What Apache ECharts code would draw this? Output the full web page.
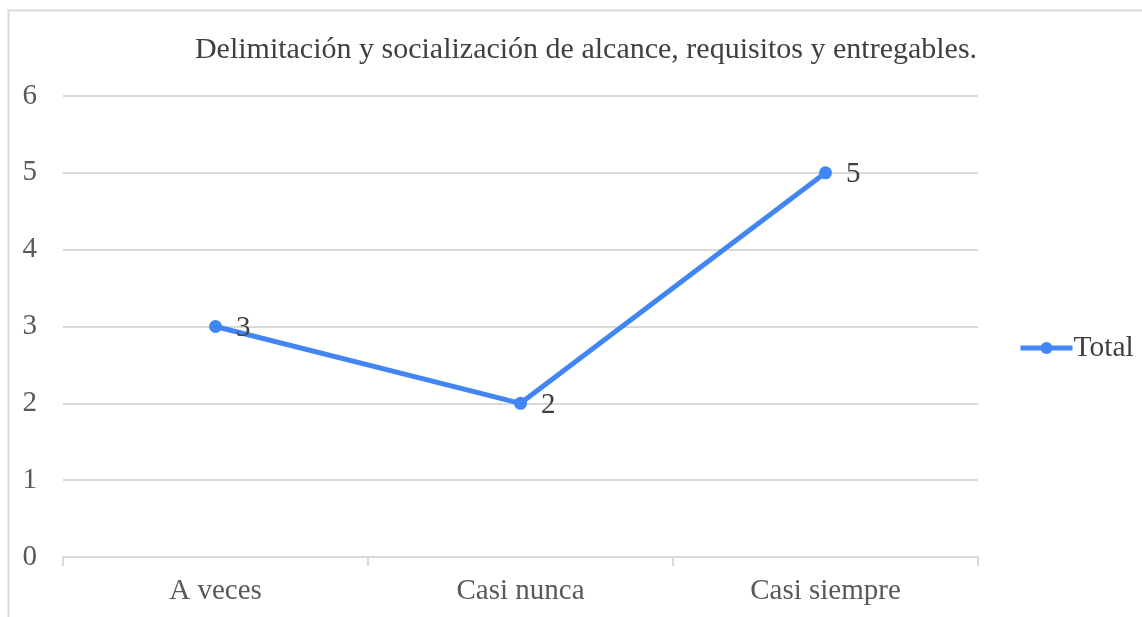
<!DOCTYPE html>
<html>
<head>
<meta charset="utf-8">
<script src="https://cdn.jsdelivr.net/npm/echarts@6/dist/echarts.min.js"></script>
<style>
  html, body { margin: 0; padding: 0; background: #fff; }
  #main { width: 1142px; height: 617px; }
</style>
</head>
<body>
<div id="main"></div>
<script>
var categories = ['A veces', 'Casi nunca', 'Casi siempre'];
var totalValues = [3, 2, 5];
var yTicks = [0, 1, 2, 3, 4, 5, 6];

var serif = '"Liberation Serif", "Times New Roman", serif';
var myChart = echarts.init(document.getElementById('main'));

var option = {
  backgroundColor: '#fff',
  animation: false,
  graphic: [{
    type: 'rect',
    shape: { x: 8.5, y: 10.5, width: 1200, height: 700 },
    style: { fill: 'none', stroke: '#d9d9d9', lineWidth: 2 },
    silent: true
  }],
  title: {
    text: 'Delimitación y socialización de alcance, requisitos y entregables.',
    left: 581,
    textAlign: 'center',
    top: 30,
    textStyle: { fontFamily: serif, fontSize: 30, fontWeight: 'normal', color: '#404040' }
  },
  legend: {
    data: ['Total'],
    orient: 'vertical',
    left: 1013,
    top: 328,
    itemWidth: 52,
    itemHeight: 15,
    itemGap: 4,
    lineStyle: { width: 5 },
    textStyle: { fontFamily: serif, fontSize: 29.5, color: '#404040', padding: [0, 0, 0, -4] }
  },
  grid: { left: 63, right: 164, top: 96, bottom: 60, containLabel: false },
  xAxis: {
    type: 'category',
    data: categories,
    boundaryGap: true,
    axisLine: { lineStyle: { color: '#d9d9d9', width: 2 } },
    axisTick: { show: true, length: 9, lineStyle: { color: '#d9d9d9', width: 2 } },
    axisLabel: { fontFamily: serif, fontSize: 29, color: '#595959', margin: 20 }
  },
  yAxis: {
    type: 'value',
    min: yTicks[0],
    max: yTicks[yTicks.length - 1],
    interval: 1,
    axisLine: { show: false },
    axisTick: { show: false },
    splitLine: { lineStyle: { color: '#d9d9d9', width: 2 } },
    axisLabel: { fontFamily: serif, fontSize: 29, color: '#595959', margin: 26 }
  },
  series: [{
    name: 'Total',
    type: 'line',
    data: totalValues,
    symbol: 'circle',
    symbolSize: 13,
    lineStyle: { color: '#4285f4', width: 5 },
    itemStyle: { color: '#4285f4' },
    label: {
      show: true,
      position: 'right',
      distance: 14,
      offset: [0, 2],
      fontFamily: serif,
      fontSize: 29,
      color: '#404040'
    }
  }]
};

myChart.setOption(option);
</script>
</body>
</html>
